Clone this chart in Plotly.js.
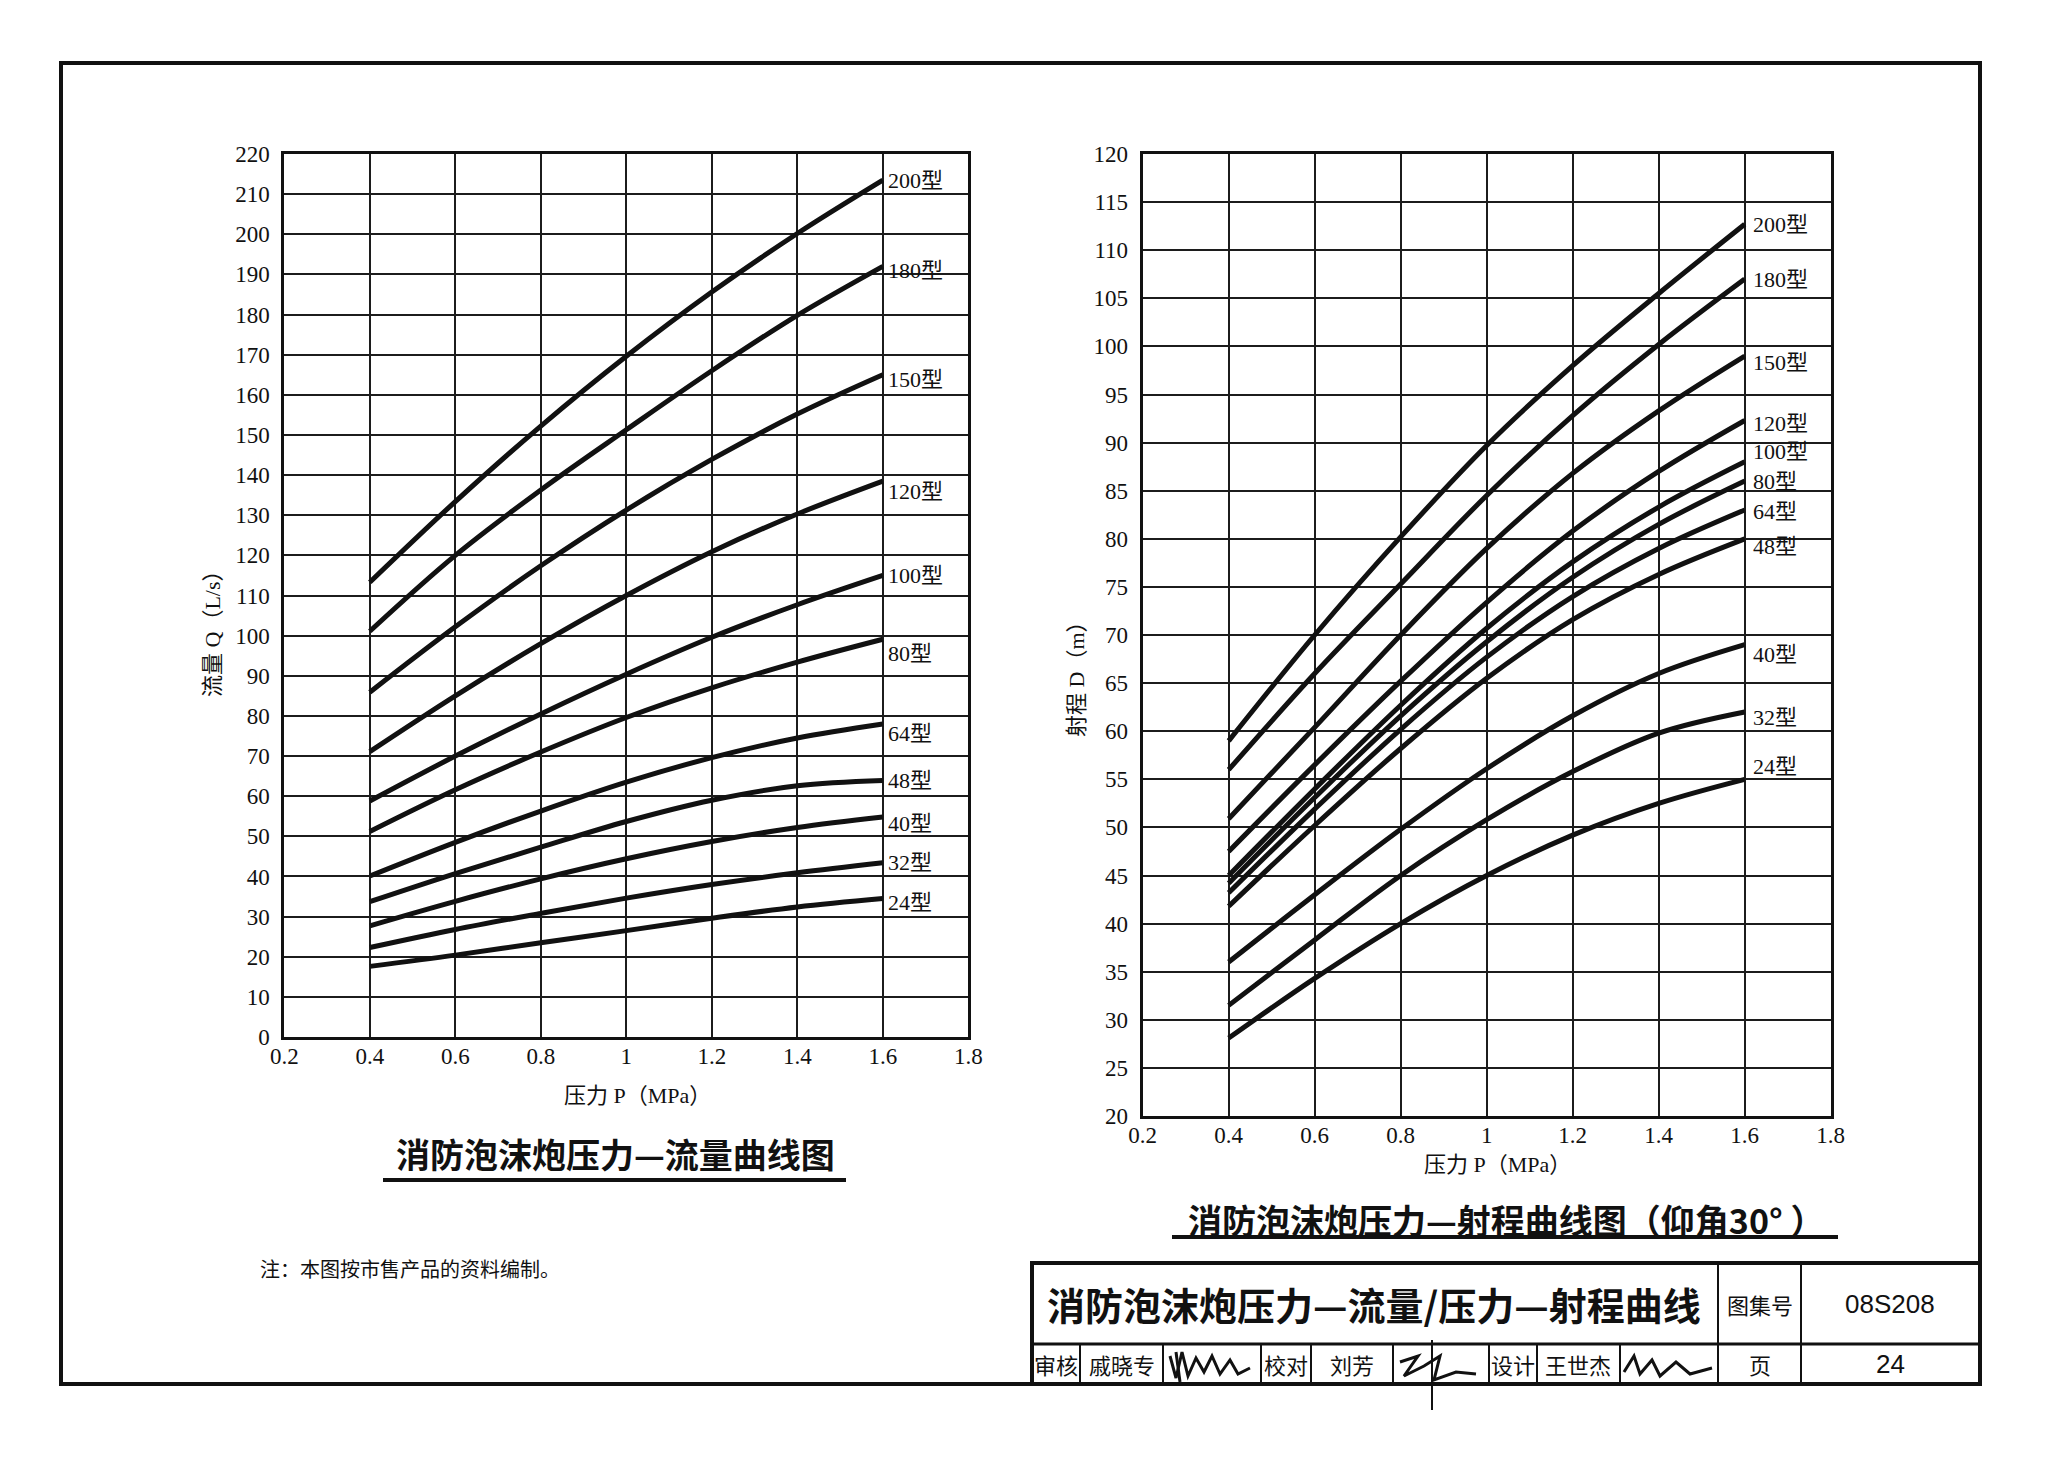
<!DOCTYPE html>
<html><head><meta charset="utf-8">
<script src="https://cdn.plot.ly/plotly-3.0.1.min.js"></script>
<style>html,body{margin:0;padding:0;background:#fff}#chart{width:2048px;height:1465px}</style>
</head><body><div id="chart"></div>
<script>
// ---------------- DATA ----------------
const pressure = [0.4, 0.6, 0.8, 1.0, 1.2, 1.4, 1.6];
const models = ['200型','180型','150型','120型','100型','80型','64型','48型','40型','32型','24型'];
const xTickVals = [0.2,0.4,0.6,0.8,1.0,1.2,1.4,1.6,1.8];
const xTickText = ['0.2','0.4','0.6','0.8','1','1.2','1.4','1.6','1.8'];

// flow Q (L/s) vs pressure
const flow200 = [113.3, 133.4, 152.2, 169.6, 185.6, 200.2, 213.5];
const flow180 = [101.1, 120.0, 136.3, 151.3, 166.0, 179.8, 192.0];
const flow150 = [85.9, 102.2, 117.4, 131.3, 143.9, 155.2, 165.0];
const flow120 = [71.1, 85.0, 98.0, 110.0, 120.9, 130.3, 138.5];
const flow100 = [58.8, 70.0, 80.5, 90.4, 99.6, 107.7, 115.0];
const flow80  = [51.2, 61.6, 71.0, 79.6, 87.0, 93.4, 99.1];
const flow64  = [40.1, 48.5, 56.3, 63.5, 69.6, 74.5, 78.0];
const flow48  = [33.7, 40.7, 47.3, 53.7, 59.0, 62.6, 63.9];
const flow40  = [27.7, 33.8, 39.4, 44.4, 48.7, 52.2, 54.8];
const flow32  = [22.3, 26.8, 30.8, 34.6, 38.0, 40.9, 43.4];
const flow24  = [17.6, 20.4, 23.5, 26.5, 29.6, 32.4, 34.5];

// range D (m) vs pressure (elevation 30°)
const range200 = [59.0, 70.0, 80.2, 89.7, 98.0, 105.5, 112.7];
const range180 = [56.0, 66.0, 75.3, 84.5, 92.8, 100.2, 107.0];
const range150 = [50.9, 60.4, 70.0, 79.0, 86.8, 93.3, 99.0];
const range120 = [47.5, 56.5, 65.2, 73.4, 80.8, 87.0, 92.3];
const range100 = [45.0, 54.0, 62.7, 70.7, 77.6, 83.3, 88.0];
const range80  = [44.2, 53.1, 61.6, 69.3, 76.0, 81.5, 86.0];
const range64  = [43.2, 51.9, 60.2, 67.7, 74.0, 79.0, 83.0];
const range48  = [41.8, 50.2, 58.2, 65.5, 71.6, 76.3, 80.0];
const range40  = [36.0, 43.0, 49.8, 56.1, 61.6, 66.0, 69.0];
const range32  = [31.5, 38.3, 45.0, 50.8, 55.8, 59.8, 62.0];
const range24  = [28.1, 34.3, 40.0, 45.0, 49.2, 52.5, 55.0];

const flowSeries = [flow200, flow180, flow150, flow120, flow100, flow80, flow64, flow48, flow40, flow32, flow24];
const rangeSeries = [range200, range180, range150, range120, range100, range80, range64, range48, range40, range32, range24];

// ---------------- STYLE / LAYOUT ----------------
const W = 2048, H = 1465;
const INK = '#111';
const NUMFONT = 'Liberation Serif, Noto Sans CJK SC, serif';
const CJK = 'Noto Sans CJK SC, sans-serif';
const flowLabelShift = [0, -4, -5, -10, 0, -14, -10, 0, -6, 0, -4];
const rangeLabelShift = [0, 0, -6, -3, 10, 0, -2, -8, -10, -6, 13];

const traces = [];
flowSeries.forEach((s, i) => traces.push({
  x: pressure, y: s, xaxis: 'x', yaxis: 'y', type: 'scatter', mode: 'lines',
  name: models[i], line: {color: INK, width: 5, shape: 'spline', smoothing: 1}, hoverinfo: 'skip'
}));
rangeSeries.forEach((s, i) => traces.push({
  x: pressure, y: s, xaxis: 'x2', yaxis: 'y2', type: 'scatter', mode: 'lines',
  name: models[i], line: {color: INK, width: 5, shape: 'spline', smoothing: 1}, hoverinfo: 'skip'
}));

function px(x) { return x / W; }
function py(y) { return 1 - y / H; }

const axisCommon = {
  showline: true, mirror: true, linewidth: 3, linecolor: INK,
  showgrid: true, gridcolor: '#1c1c1c', gridwidth: 2,
  zeroline: false, ticks: '', fixedrange: true,
  tickfont: {family: NUMFONT, size: 23, color: INK}
};

const annotations = [];
function txt(text, x, y, size, opts) {
  annotations.push(Object.assign({
    text: text, xref: 'paper', yref: 'paper', x: px(x), y: py(y),
    xanchor: 'center', yanchor: 'middle', showarrow: false,
    font: {family: CJK, size: size, color: INK}
  }, opts || {}));
}

// curve labels
flowSeries.forEach((s, i) => annotations.push({
  text: models[i], xref: 'x', yref: 'y', x: pressure[pressure.length - 1], y: s[s.length - 1],
  xanchor: 'left', yanchor: 'middle', xshift: 3, yshift: flowLabelShift[i], showarrow: false,
  font: {family: NUMFONT, size: 22, color: INK}
}));
rangeSeries.forEach((s, i) => annotations.push({
  text: models[i], xref: 'x2', yref: 'y2', x: pressure[pressure.length - 1], y: s[s.length - 1],
  xanchor: 'left', yanchor: 'middle', xshift: 6, yshift: rangeLabelShift[i], showarrow: false,
  font: {family: NUMFONT, size: 22, color: INK}
}));

// axis titles
txt('流量 Q（L/s）', 212, 628, 22, {textangle: -90, font: {family: NUMFONT, size: 22, color: INK}});
txt('压力 P（MPa）', 637, 1095, 22, {font: {family: NUMFONT, size: 22, color: INK}});
txt('射程 D（m）', 1076, 674, 22, {textangle: -90, font: {family: NUMFONT, size: 22, color: INK}});
txt('压力 P（MPa）', 1497, 1164, 22, {font: {family: NUMFONT, size: 22, color: INK}});

// captions
txt('消防泡沫炮压力—流量曲线图', 615, 1153, 34, {font: {family: CJK, size: 34, color: INK, weight: 'bold'}});
txt('消防泡沫炮压力—射程曲线图（仰角30° ）', 1506, 1219, 34, {font: {family: CJK, size: 34, color: INK, weight: 'bold'}});
txt('注：本图按市售产品的资料编制。', 258, 1268, 20, {xanchor: 'left'});

// title block texts
txt('消防泡沫炮压力—流量/压力—射程曲线', 1374, 1303, 38, {font: {family: CJK, size: 38, color: INK, weight: 'bold'}});
txt('图集号', 1760, 1304, 22);
txt('08S208', 1890, 1304, 26, {font: {family: 'Liberation Sans Narrow, Liberation Sans, sans-serif', size: 26, color: INK}});
txt('页', 1760, 1364, 22);
txt('24', 1890, 1364, 26, {font: {family: 'Liberation Sans Narrow, Liberation Sans, sans-serif', size: 26, color: INK}});
txt('审核', 1056, 1364, 22);
txt('戚晓专', 1122, 1364, 22);
txt('校对', 1286, 1364, 22);
txt('刘芳', 1352, 1364, 22);
txt('设计', 1513, 1364, 22);
txt('王世杰', 1578, 1364, 22);

// shapes
const shapes = [];
function rect(x0, y0, x1, y1, w) {
  shapes.push({type: 'rect', xref: 'paper', yref: 'paper', x0: px(x0), x1: px(x1), y0: py(y1), y1: py(y0),
    line: {color: INK, width: w}, fillcolor: 'rgba(0,0,0,0)', layer: 'above'});
}
function seg(x0, y0, x1, y1, w) {
  shapes.push({type: 'line', xref: 'paper', yref: 'paper', x0: px(x0), x1: px(x1), y0: py(y0), y1: py(y1),
    line: {color: INK, width: w}, layer: 'above'});
}
function scribble(pts, w) {
  let d = 'M ' + px(pts[0][0]) + ',' + py(pts[0][1]);
  for (let k = 1; k < pts.length; k++) d += ' L ' + px(pts[k][0]) + ',' + py(pts[k][1]);
  shapes.push({type: 'path', xref: 'paper', yref: 'paper', path: d, line: {color: INK, width: w}, layer: 'above'});
}
// outer frame
rect(61, 63, 1980, 1384, 4);
// caption underlines
seg(383, 1180, 846, 1180, 4);
seg(1172, 1237, 1838, 1237, 4);
// title block
rect(1032, 1263, 1980, 1384, 4);
seg(1032, 1344, 1980, 1344, 3);
seg(1718, 1263, 1718, 1384, 2);
seg(1801, 1263, 1801, 1384, 2);
[1080, 1163, 1261, 1311, 1393, 1489, 1537, 1620].forEach(x => seg(x, 1344, x, 1384, 2));
// signatures (handwritten marks)
scribble([[1170,1356],[1176,1378],[1182,1352],[1188,1376],[1196,1358],[1204,1372],[1212,1356],[1220,1374],[1230,1360],[1238,1374],[1250,1368]], 3);
scribble([[1176,1352],[1180,1382]], 3);
scribble([[1400,1362],[1418,1356],[1404,1376],[1424,1366],[1440,1356],[1434,1380],[1456,1372],[1476,1374]], 3);
scribble([[1432,1340],[1432,1410]], 2);
scribble([[1624,1372],[1634,1356],[1640,1374],[1652,1360],[1660,1376],[1676,1362],[1690,1374],[1712,1368]], 3);

const layout = {
  width: W, height: H, autosize: false,
  margin: {l: 0, r: 0, t: 0, b: 0, pad: 0},
  paper_bgcolor: '#fff', plot_bgcolor: '#fff',
  showlegend: false,
  xaxis: Object.assign({}, axisCommon, {domain: [px(284.3), px(968.3)], anchor: 'y', range: [0.2, 1.8],
    tickvals: xTickVals, ticktext: xTickText, ticklabelstandoff: -4}),
  yaxis: Object.assign({}, axisCommon, {domain: [py(1037), py(154)], anchor: 'x', range: [0, 220],
    dtick: 10, tick0: 0, ticklabelstandoff: 7}),
  xaxis2: Object.assign({}, axisCommon, {domain: [px(1142.7), px(1830.7)], anchor: 'y2', range: [0.2, 1.8],
    tickvals: xTickVals, ticktext: xTickText, ticklabelstandoff: -4}),
  yaxis2: Object.assign({}, axisCommon, {domain: [py(1116), py(154)], anchor: 'x2', range: [20, 120],
    dtick: 5, tick0: 20, ticklabelstandoff: 7}),
  annotations: annotations,
  shapes: shapes
};

Plotly.newPlot('chart', traces, layout, {staticPlot: true, displayModeBar: false});
</script>
</body></html>
